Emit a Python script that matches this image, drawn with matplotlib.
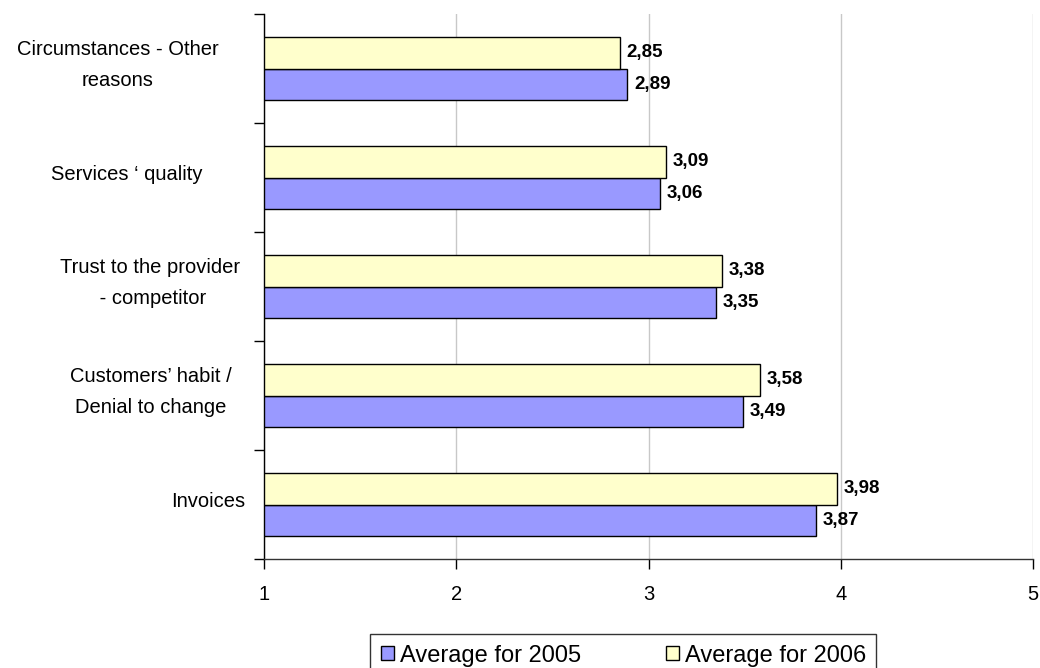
import matplotlib
matplotlib.use("Agg")
import matplotlib.pyplot as plt
import matplotlib.transforms as mtransforms
from matplotlib.patches import Patch
import numpy as np

plt.rcParams['font.family'] = ['Liberation Sans', 'DejaVu Sans']

# Categories listed bottom to top
categories = [
    "Invoices",
    "Customers\u2019 habit /\nDenial to change",
    "Trust to the provider\n - competitor",
    "Services \u2018 quality",
    "Circumstances - Other\nreasons",
]
avg_2005 = [3.87, 3.49, 3.35, 3.06, 2.89]
avg_2006 = [3.98, 3.58, 3.38, 3.09, 2.85]
series_names = ["Average for 2005", "Average for 2006"]
x_ticks = [1, 2, 3, 4, 5]

color_2005 = "#9999FF"
color_2006 = "#FFFFCC"

W, H = 1040, 668
fig = plt.figure(figsize=(W / 100, H / 100), dpi=100)
ax = fig.add_axes([264 / W, 109 / H, 769 / W, 545 / H])

y = np.arange(len(categories))
bar_h = 0.29
base = 1.0

ax.barh(y - bar_h / 2, np.array(avg_2005) - base, left=base, height=bar_h,
        color=color_2005, edgecolor="black", linewidth=1.0, zorder=3)
ax.barh(y + bar_h / 2, np.array(avg_2006) - base, left=base, height=bar_h,
        color=color_2006, edgecolor="black", linewidth=1.0, zorder=3)

def fmt(v):
    return f"{v:.2f}".replace(".", ",")

for yy, v in zip(y, avg_2005):
    ax.annotate(fmt(v), xy=(v, yy - bar_h / 2), xytext=(7, 0),
                textcoords="offset pixels", ha="left", va="center",
                fontsize=13.5, fontweight="bold", zorder=4)
for yy, v in zip(y, avg_2006):
    ax.annotate(fmt(v), xy=(v, yy + bar_h / 2), xytext=(7, 0),
                textcoords="offset pixels", ha="left", va="center",
                fontsize=13.5, fontweight="bold", zorder=4)

ax.set_xlim(1, 5)
ax.set_ylim(-0.5, len(categories) - 0.5)

ax.set_xticks(x_ticks)
ax.set_xticklabels([str(t) for t in x_ticks], fontsize=14.5)
ax.tick_params(axis="x", direction="out", length=7, width=1, pad=12, colors="black")

ax.set_yticks(np.arange(-0.5, len(categories), 1.0))
ax.set_yticklabels([])
ax.tick_params(axis="y", direction="out", length=7, width=1, colors="black")

ax.xaxis.grid(True, color="#c8c8c8", linewidth=1.0, zorder=0)
ax.set_axisbelow(True)

for side in ("top", "right"):
    ax.spines[side].set_visible(False)
ax.spines["left"].set_color("black")
ax.spines["bottom"].set_color("#333333")
ax.spines["left"].set_linewidth(1.0)
ax.spines["bottom"].set_linewidth(1.0)

# Category labels, centred within their wrap boxes left of the axis
label_centers_px = [208, 151, 150, 127, 118]
trans = mtransforms.blended_transform_factory(fig.transFigure, ax.transData)
for yy, lab, cx in zip(y, categories, label_centers_px):
    fig.text(cx / W, yy + 0.03, lab, transform=trans, ha="center", va="center",
             multialignment="center", fontsize=14.5, linespacing=1.8)

handles = [Patch(facecolor=color_2005, edgecolor="black", linewidth=1.0),
           Patch(facecolor=color_2006, edgecolor="black", linewidth=1.0)]
leg = fig.legend(handles, series_names, loc="upper left",
                 bbox_to_anchor=(370 / W, 1 - 634 / H), ncol=2,
                 fontsize=17, frameon=True, fancybox=False,
                 handlelength=0.55, handleheight=0.55, handletextpad=0.25,
                 columnspacing=3.6, borderpad=0.45, borderaxespad=0)
leg.get_frame().set_edgecolor("black")
leg.get_frame().set_linewidth(1.0)

fig.savefig("out.png", dpi=100)
